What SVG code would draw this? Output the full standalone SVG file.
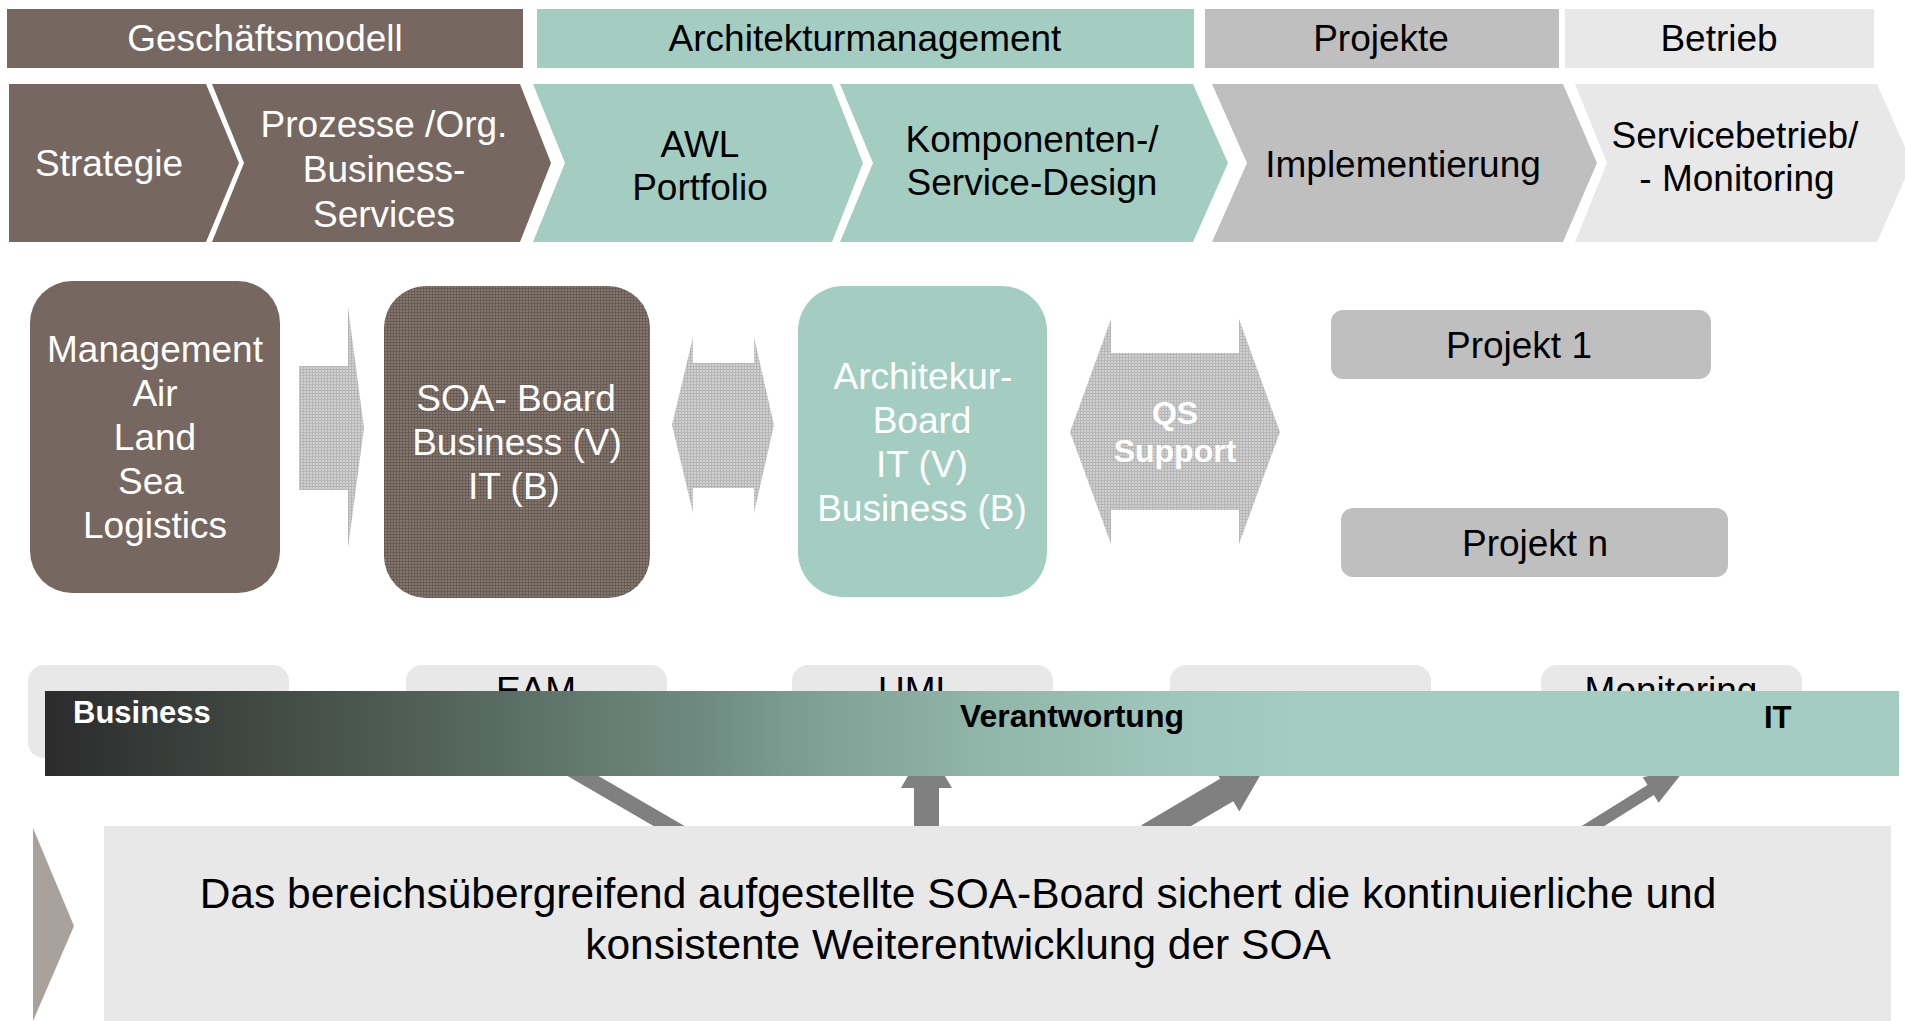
<svg xmlns="http://www.w3.org/2000/svg" width="1905" height="1021" viewBox="0 0 1905 1021">
<style>
text{font-family:"Liberation Sans",Arial,sans-serif;}
.t37{font-size:37px;}
.w{fill:#ffffff;}
.k{fill:#000000;}
.brown{fill:#766860;}
.teal{fill:#a3cdc1;}
.gray{fill:#bfbfbf;}
.light{fill:#e8e8e8;}
.c{text-anchor:middle;}
.b{font-weight:bold;}
</style>
<defs>
<pattern id="hGray" width="3" height="3" patternUnits="userSpaceOnUse"><rect width="3" height="3" fill="#d0d0d0"/><rect width="3" height="1" fill="#b6b6b6"/><rect width="1" height="3" fill="#b6b6b6"/></pattern>
<pattern id="hBrown" width="3" height="3" patternUnits="userSpaceOnUse"><rect width="3" height="3" fill="#83766e"/><rect width="3" height="1" fill="#695d56"/><rect width="1" height="3" fill="#695d56"/></pattern>
<linearGradient id="band" gradientUnits="userSpaceOnUse" x1="45" y1="0" x2="1899" y2="0">
<stop offset="0" stop-color="#2b2b2b"/>
<stop offset="0.096" stop-color="#3d4440"/>
<stop offset="0.193" stop-color="#4e5d56"/>
<stop offset="0.289" stop-color="#62796f"/>
<stop offset="0.353" stop-color="#6e8a80"/>
<stop offset="0.416" stop-color="#7fa095"/>
<stop offset="0.505" stop-color="#90b5a9"/>
<stop offset="0.594" stop-color="#9dc4b8"/>
<stop offset="0.677" stop-color="#a3cdc1"/>
<stop offset="1" stop-color="#a3cdc1"/>
</linearGradient>
</defs>
<rect width="1905" height="1021" fill="#ffffff"/>

<!-- phase header bands -->
<g id="band-geschaeftsmodell"><rect class="brown" x="7" y="9" width="516" height="59"/><text class="t37 w c" x="265" y="51">Geschäftsmodell</text></g>
<g id="band-architektur"><rect class="teal" x="537" y="9" width="657" height="59"/><text class="t37 k c" x="865" y="51">Architekturmanagement</text></g>
<g id="band-projekte"><rect class="gray" x="1205" y="9" width="354" height="59"/><text class="t37 k c" x="1381" y="51">Projekte</text></g>
<g id="band-betrieb"><rect class="light" x="1565" y="9" width="309" height="59"/><text class="t37 k c" x="1719" y="51">Betrieb</text></g>

<!-- chevrons -->
<g id="chev-strategie"><polygon class="brown" points="9,84 206,84 239,163 206,242 9,242"/><text class="t37 w c" x="109" y="176">Strategie</text></g>
<g id="chev-prozesse"><polygon class="brown" points="212,84 520,84 551,163 520,242 212,242 244,163"/><text class="t37 w c" x="384" y="137">Prozesse /Org.</text><text class="t37 w c" x="384" y="182">Business-</text><text class="t37 w c" x="384" y="227">Services</text></g>
<g id="chev-awl"><polygon class="teal" points="533,84 832,84 863,163 832,242 533,242 565,163"/><text class="t37 k c" x="700" y="157">AWL</text><text class="t37 k c" x="700" y="200">Portfolio</text></g>
<g id="chev-komponenten"><polygon class="teal" points="840,84 1193,84 1228,163 1193,242 840,242 873,163"/><text class="t37 k c" x="1032" y="152">Komponenten-/</text><text class="t37 k c" x="1032" y="195">Service-Design</text></g>
<g id="chev-implementierung"><polygon class="gray" points="1212,84 1563,84 1597,163 1563,242 1212,242 1247,163"/><text class="t37 k c" x="1403" y="177">Implementierung</text></g>
<g id="chev-servicebetrieb"><polygon class="light" points="1575,84 1877,84 1912,163 1877,242 1575,242 1607,163"/><text class="t37 k c" x="1735" y="148">Servicebetrieb/</text><text class="t37 k c" x="1737" y="191">- Monitoring</text></g>

<!-- middle row -->
<g id="node-management"><rect class="brown" x="30" y="281" width="250" height="312" rx="42"/>
<text class="t37 w c" x="155" y="362">Management</text><text class="t37 w c" x="155" y="406">Air</text><text class="t37 w c" x="155" y="450">Land</text><text class="t37 w c" x="151" y="494">Sea</text><text class="t37 w c" x="155" y="538">Logistics</text></g>
<g id="node-soa-board"><rect fill="url(#hBrown)" x="384" y="286" width="266" height="312" rx="42"/>
<text class="t37 w c" x="516" y="411">SOA- Board</text><text class="t37 w c" x="517" y="455">Business (V)</text><text class="t37 w c" x="514" y="499">IT (B)</text></g>
<g id="node-architektur-board"><rect class="teal" x="798" y="286" width="249" height="311" rx="45"/>
<text class="t37 w c" x="923" y="389">Architekur-</text><text class="t37 w c" x="922" y="433">Board</text><text class="t37 w c" x="922" y="477">IT (V)</text><text class="t37 w c" x="922" y="521">Business (B)</text></g>
<g id="node-projekt-1"><rect class="gray" x="1331" y="310" width="380" height="69" rx="12"/><text class="t37 k c" x="1519" y="358">Projekt 1</text></g>
<g id="node-projekt-n"><rect class="gray" x="1341" y="508" width="387" height="69" rx="12"/><text class="t37 k c" x="1535" y="556">Projekt n</text></g>

<!-- bottom tool boxes (partly hidden by band) -->
<g id="node-tool-1"><rect class="light" x="28" y="665" width="261" height="93" rx="16"/></g>
<g id="node-tool-eam"><rect class="light" x="406" y="665" width="261" height="93" rx="16"/><text class="t37 k c" x="536" y="703">EAM</text></g>
<g id="node-tool-uml"><rect class="light" x="792" y="665" width="261" height="93" rx="16"/><text class="t37 k c" x="917" y="703">UML</text></g>
<g id="node-tool-4"><rect class="light" x="1170" y="665" width="261" height="93" rx="16"/></g>
<g id="node-tool-monitoring"><rect class="light" x="1541" y="665" width="261" height="93" rx="16"/><text class="t37 k c" x="1671" y="703">Monitoring</text></g>

<!-- connectors -->
<g id="connectors">
<polygon fill="url(#hGray)" points="299,366 348,366 348,307 364,428 348,548 348,490 299,490"/>
<polygon fill="url(#hGray)" points="672,425 693,337 693,363 754,363 754,337 774,425 754,513 754,488 693,488 693,513"/>
<polygon fill="url(#hGray)" points="1070,432 1111,319 1111,353 1239,353 1239,319 1280,432 1239,544 1239,510 1111,510 1111,544"/>
<text class="b w c" style="font-size:32px" x="1175" y="424">QS</text>
<text class="b w c" style="font-size:32px" x="1175" y="462">Support</text>
<polygon fill="#808080" points="540,760 571,760 700,835 669,835"/>
<polygon fill="#808080" points="914,840 914,788 901,788 926,744 952,788 939,788 939,840"/>
<polygon fill="#808080" transform="translate(1165.5,826) rotate(-30.5)" points="-20,-13 71,-13 71,-25 115,0 71,25 71,13 -20,13"/>
<polygon fill="#808080" transform="translate(1593,826) rotate(-32)" points="-20,-6 68,-6 68,-15 110,0 68,15 68,6 -20,6"/>
</g>

<!-- responsibility band -->
<g id="band-verantwortung"><rect fill="url(#band)" x="45" y="691" width="1854" height="85"/>
<text class="b w" style="font-size:31px" x="73" y="723">Business</text>
<text class="b k c" style="font-size:32px" x="1072" y="727">Verantwortung</text>
<text class="b k" style="font-size:31px" x="1764" y="728">IT</text></g>

<!-- summary -->
<g id="summary"><polygon fill="#a9a19c" points="33,828 74,926 33,1021"/>
<rect class="light" x="104" y="826" width="1787" height="195"/>
<text class="c k" style="font-size:42.5px" x="958" y="908">Das bereichsübergreifend aufgestellte SOA-Board sichert die kontinuierliche und</text>
<text class="c k" style="font-size:42.5px" x="958" y="959">konsistente Weiterentwicklung der SOA</text></g>
</svg>
